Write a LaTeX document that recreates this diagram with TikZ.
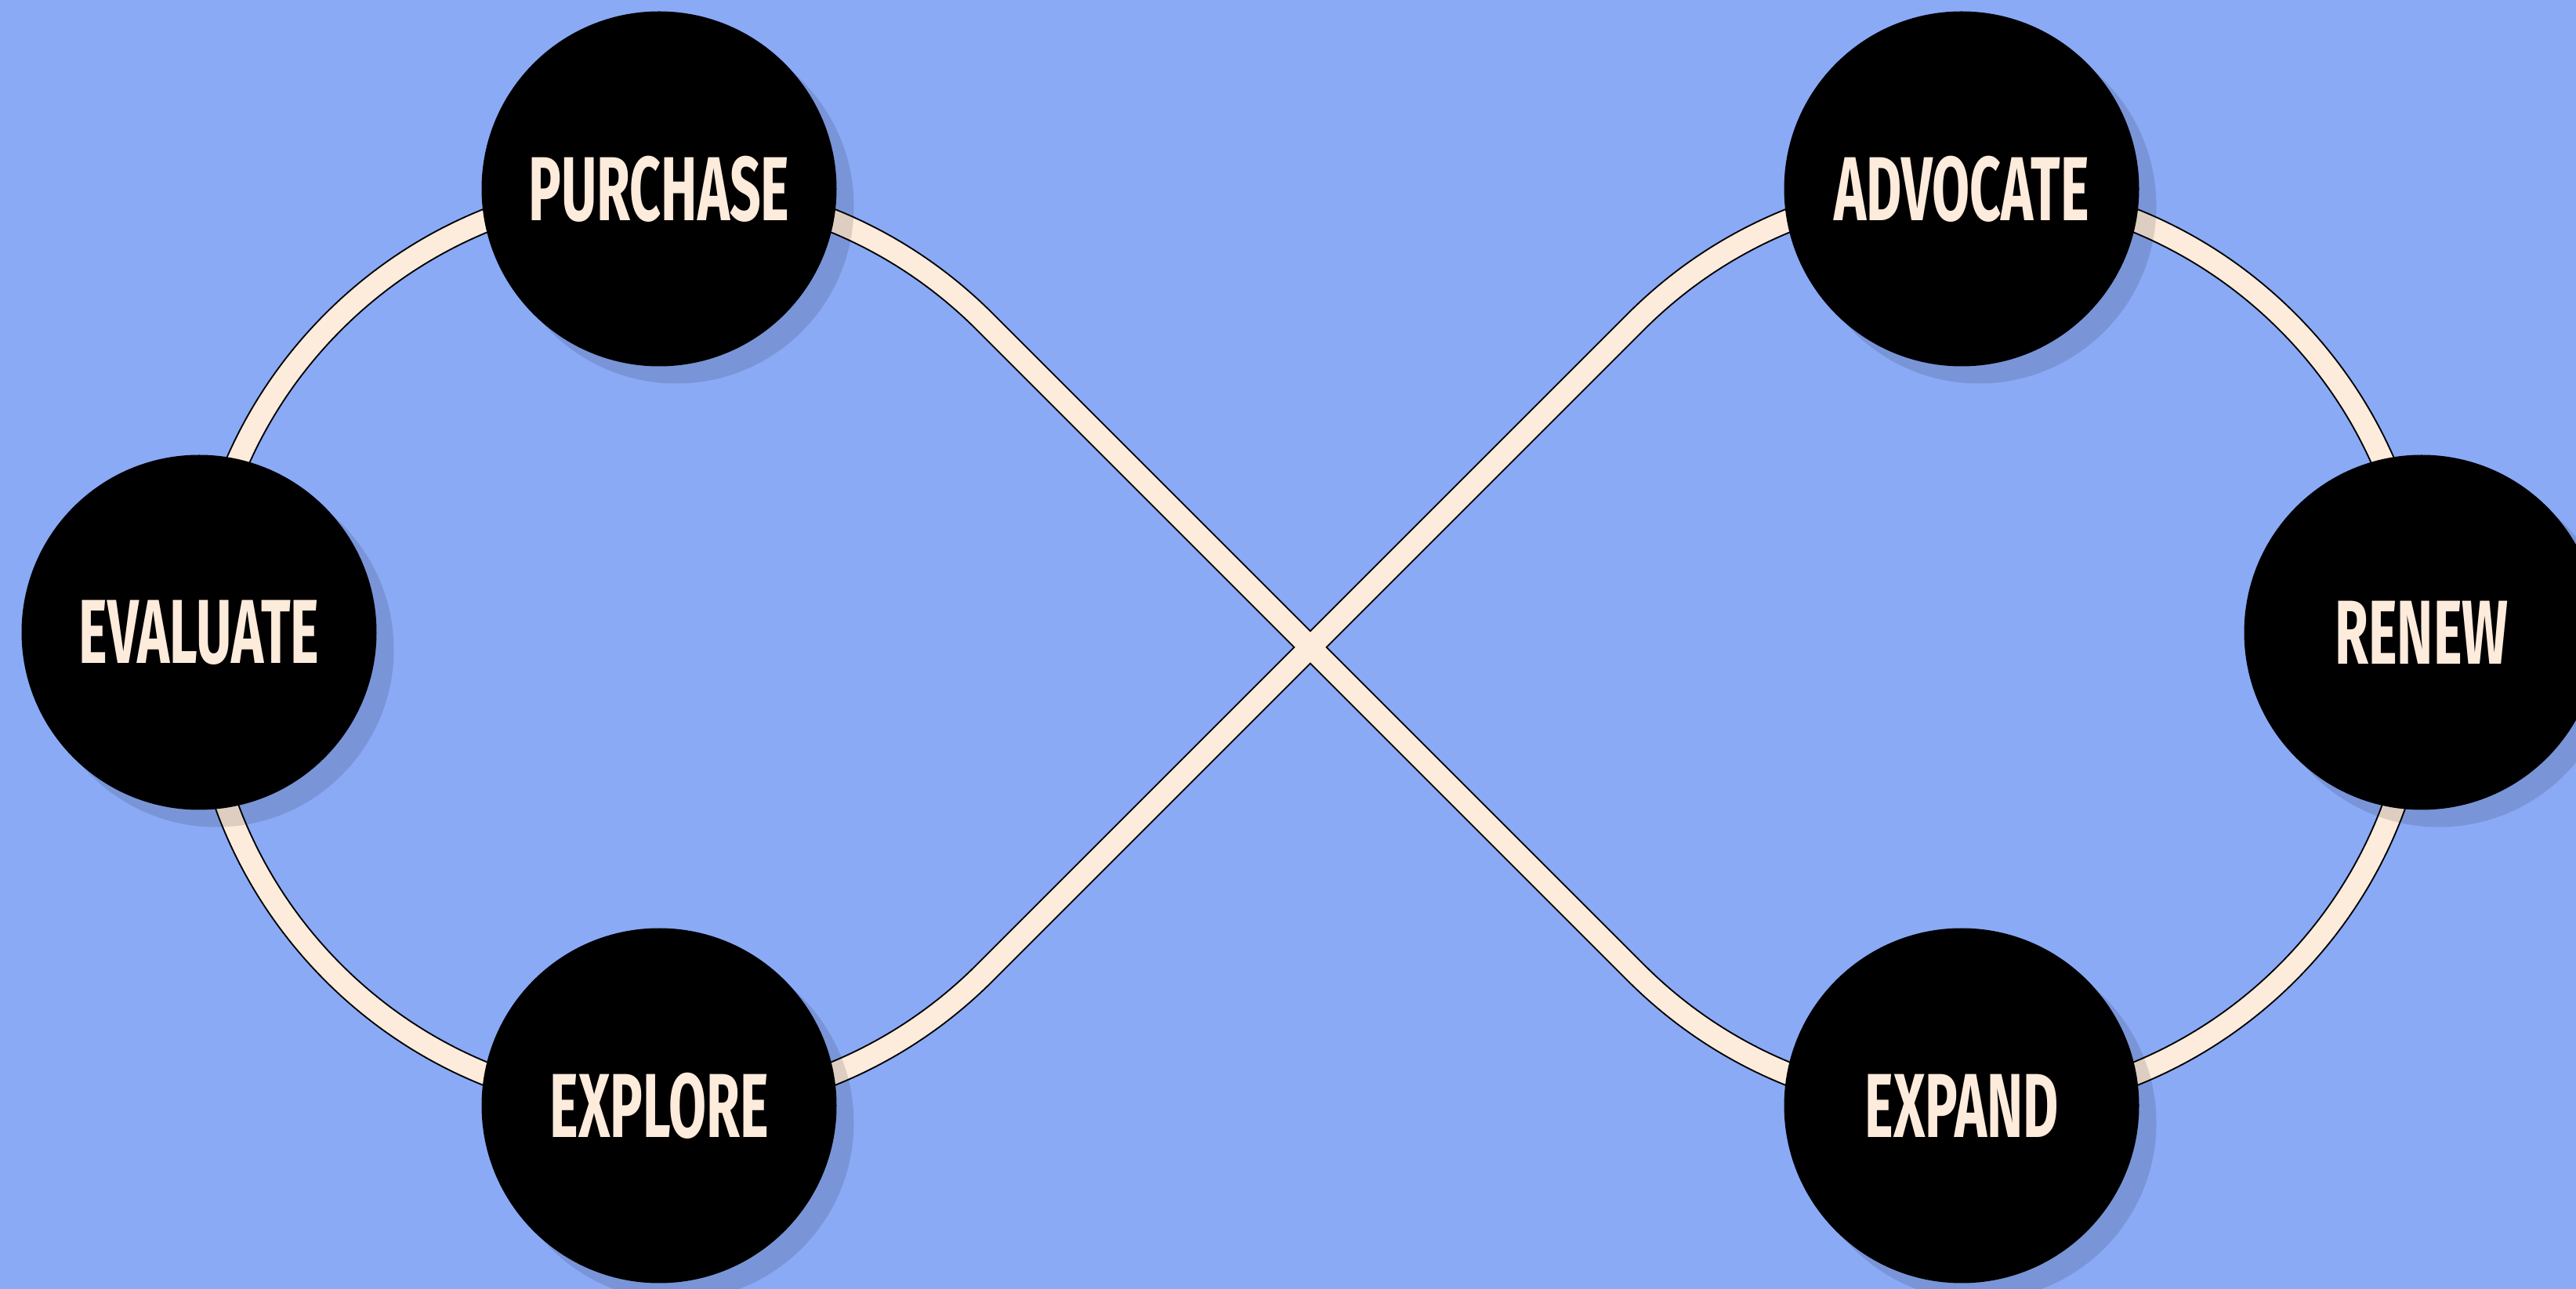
\documentclass[tikz,border=0pt]{standalone}
\usepackage{fontspec}
\setmainfont{Fira Sans}
\usepackage{tikz}
\usetikzlibrary{calc}
\usetikzlibrary{shadows}
\definecolor{sky}{HTML}{8AAAF6}
\definecolor{cream}{HTML}{FDEBDC}
\tikzset{
  stage/.style={circle, fill=black, inner sep=0pt, minimum size=4.53cm,
    text=cream, font=\fontsize{33}{33}\selectfont\bfseries,
    drop shadow={shadow xshift=0.22cm, shadow yshift=-0.22cm, fill=black, opacity=0.12}},
  railfill/.style={line width=0.27cm, cream},
  railedge/.style={draw, line width=0.31cm, black}
}
\newcommand{\squeeze}[1]{\scalebox{0.6}[1]{#1}}

\begin{document}
\begin{tikzpicture}
    \fill [sky] (0,0) rectangle (32.87,16.45);
    \useasboundingbox (0,0) rectangle (32.87,16.45);
    \clip (0,0) rectangle (32.87,16.45);
    \coordinate (lc) at (8.41,8.19);
    \coordinate (rc) at (25.03,8.19);
    \coordinate (x) at (16.72,8.19);
    % figure-eight track
    \draw [railfill, preaction={railedge}] ($(lc)+(45:5.876)$)
        arc [start angle=45, end angle=315, radius=5.876] -- (x)
        -- ($(rc)+(135:5.876)$)
        arc [start angle=135, end angle=-135, radius=5.876] -- (x) -- cycle;
    \node [stage] (purchase) at (8.41,14.04) {\squeeze{PURCHASE}};
    \node [stage] (advocate) at (25.03,14.04) {\squeeze{ADVOCATE}};
    \node [stage] (evaluate) at (2.54,8.38) {\squeeze{EVALUATE}};
    \node [stage] (renew) at (30.90,8.38) {\squeeze{RENEW}};
    \node [stage] (explore) at (8.41,2.34) {\squeeze{EXPLORE}};
    \node [stage] (expand) at (25.03,2.34) {\squeeze{EXPAND}};
\end{tikzpicture}
\end{document}
